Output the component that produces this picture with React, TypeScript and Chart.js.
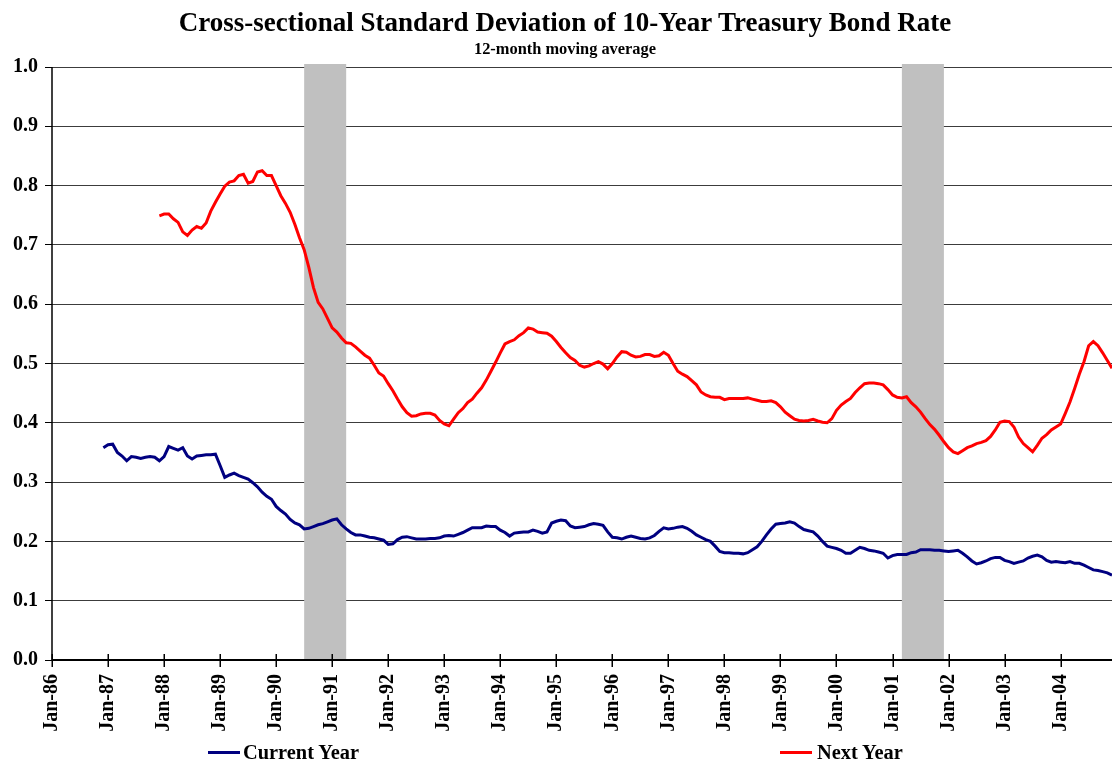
import React, { useEffect, useRef } from "react";
import { Chart, registerables } from "chart.js";

Chart.register(...registerables);

// ---- data ----
const FIRST_YEAR = 1986; // month index 0 = Jan-86
const LAST_MONTH = 227; // Dec-04

const titleText = "Cross-sectional Standard Deviation of 10-Year Treasury Bond Rate";
const subtitleText = "12-month moving average";
const seriesNames = ["Current Year", "Next Year"];

const yTickValues = [0, 0.1, 0.2, 0.3, 0.4, 0.5, 0.6, 0.7, 0.8, 0.9, 1.0];
const xTickMonths = [0, 12, 24, 36, 48, 60, 72, 84, 96, 108, 120, 132, 144, 156, 168, 180, 192, 204, 216];

// recessions, [first month, last month] as month indices (Jul-90..Mar-91, Mar-01..Nov-01)
const recessions = [
  [54, 62],
  [182, 190],
];

// Current Year: starts Dec-86 (month 11)
const currentYearStart = 11;
const currentYear = [
  0.358,
  0.363, 0.364, 0.350, 0.344, 0.336, 0.343, 0.342, 0.340, 0.342, 0.343, 0.342, 0.336, // 87
  0.343, 0.360, 0.357, 0.354, 0.358, 0.344, 0.339, 0.344, 0.345, 0.346, 0.346, 0.347, // 88
  0.328, 0.308, 0.312, 0.315, 0.311, 0.308, 0.305, 0.299, 0.292, 0.283, 0.276, 0.271, // 89
  0.259, 0.252, 0.246, 0.237, 0.231, 0.228, 0.221, 0.222, 0.225, 0.228, 0.230, 0.233, // 90
  0.236, 0.238, 0.228, 0.221, 0.215, 0.211, 0.211, 0.209, 0.207, 0.206, 0.204, 0.202, // 91
  0.195, 0.196, 0.203, 0.207, 0.208, 0.206, 0.204, 0.204, 0.204, 0.205, 0.205, 0.206, // 92
  0.209, 0.210, 0.209, 0.212, 0.215, 0.219, 0.223, 0.223, 0.223, 0.226, 0.225, 0.225, // 93
  0.219, 0.215, 0.209, 0.214, 0.215, 0.216, 0.216, 0.219, 0.217, 0.214, 0.216, 0.231, // 94
  0.234, 0.236, 0.235, 0.226, 0.223, 0.224, 0.225, 0.228, 0.230, 0.229, 0.227, 0.216, // 95
  0.207, 0.206, 0.204, 0.207, 0.209, 0.207, 0.205, 0.204, 0.206, 0.210, 0.217, 0.223, // 96
  0.221, 0.222, 0.224, 0.225, 0.222, 0.217, 0.211, 0.207, 0.203, 0.200, 0.192, 0.183, // 97
  0.181, 0.181, 0.180, 0.180, 0.179, 0.181, 0.186, 0.191, 0.200, 0.211, 0.221, 0.229, // 98
  0.230, 0.231, 0.233, 0.231, 0.225, 0.220, 0.218, 0.216, 0.209, 0.200, 0.192, 0.190, // 99
  0.188, 0.185, 0.180, 0.180, 0.185, 0.190, 0.188, 0.185, 0.184, 0.182, 0.180, 0.172, // 00
  0.176, 0.178, 0.178, 0.178, 0.181, 0.182, 0.186, 0.186, 0.186, 0.185, 0.185, 0.184, // 01
  0.183, 0.184, 0.185, 0.180, 0.174, 0.167, 0.162, 0.164, 0.167, 0.171, 0.173, 0.173, // 02
  0.168, 0.166, 0.163, 0.165, 0.167, 0.172, 0.175, 0.177, 0.174, 0.168, 0.165, 0.166, // 03
  0.165, 0.164, 0.166, 0.163, 0.163, 0.160, 0.156, 0.152, 0.151, 0.149, 0.147, 0.143, // 04
];

// Next Year: starts Dec-87 (month 23)
const nextYearStart = 23;
const nextYear = [
  0.749,
  0.752, 0.752, 0.744, 0.738, 0.722, 0.716, 0.725, 0.731, 0.728, 0.737, 0.757, 0.772, // 88
  0.786, 0.799, 0.806, 0.808, 0.817, 0.819, 0.804, 0.807, 0.823, 0.825, 0.817, 0.817, // 89
  0.800, 0.783, 0.770, 0.755, 0.735, 0.712, 0.692, 0.662, 0.628, 0.603, 0.592, 0.576, // 90
  0.560, 0.553, 0.543, 0.535, 0.534, 0.528, 0.521, 0.514, 0.509, 0.497, 0.484, 0.479, // 91
  0.466, 0.454, 0.440, 0.427, 0.417, 0.411, 0.412, 0.415, 0.416, 0.416, 0.413, 0.404, // 92
  0.398, 0.395, 0.406, 0.417, 0.424, 0.434, 0.440, 0.450, 0.459, 0.472, 0.487, 0.502, // 93
  0.518, 0.533, 0.537, 0.540, 0.547, 0.552, 0.560, 0.558, 0.553, 0.552, 0.551, 0.546, // 94
  0.537, 0.527, 0.518, 0.510, 0.505, 0.497, 0.494, 0.496, 0.500, 0.503, 0.499, 0.491, // 95
  0.500, 0.511, 0.520, 0.519, 0.514, 0.511, 0.512, 0.515, 0.515, 0.512, 0.513, 0.519, // 96
  0.514, 0.500, 0.487, 0.482, 0.478, 0.471, 0.464, 0.452, 0.447, 0.444, 0.443, 0.443, // 97
  0.439, 0.441, 0.441, 0.441, 0.441, 0.442, 0.440, 0.438, 0.436, 0.436, 0.437, 0.434, // 98
  0.427, 0.418, 0.412, 0.406, 0.404, 0.403, 0.404, 0.406, 0.403, 0.401, 0.400, 0.407, // 99
  0.421, 0.430, 0.436, 0.441, 0.451, 0.459, 0.466, 0.467, 0.467, 0.466, 0.464, 0.456, // 00
  0.447, 0.443, 0.442, 0.444, 0.434, 0.427, 0.418, 0.407, 0.397, 0.389, 0.379, 0.368, // 01
  0.358, 0.351, 0.348, 0.353, 0.358, 0.361, 0.365, 0.367, 0.370, 0.377, 0.388, 0.401, // 02
  0.403, 0.402, 0.393, 0.376, 0.365, 0.358, 0.351, 0.362, 0.374, 0.380, 0.388, 0.393, // 03
  0.398, 0.416, 0.435, 0.458, 0.482, 0.503, 0.530, 0.537, 0.530, 0.518, 0.505, 0.492, // 04
];

const NAVY = "#000080";
const RED = "#FF0000";
const FONT = "'Liberation Serif', 'Times New Roman', serif";

function toPoints(start: number, values: number[]) {
  return values.map((v, i) => ({ x: start + i, y: v }));
}

function monthLabel(m: number) {
  const yy = (FIRST_YEAR + Math.floor(m / 12)) % 100;
  return "Jan-" + String(yy).padStart(2, "0");
}

const decorPlugin = {
  id: "decor",
  beforeDatasetsDraw(chart: any) {
    const { ctx, chartArea, scales } = chart;
    const xs = scales.x;
    ctx.save();
    ctx.fillStyle = "#C0C0C0";
    for (const [a, b] of recessions) {
      const x1 = xs.getPixelForValue(a);
      const x2 = xs.getPixelForValue(b + 1);
      ctx.fillRect(x1, chartArea.top - 3, x2 - x1, chartArea.bottom - chartArea.top + 2);
    }
    ctx.restore();
  },
  afterDatasetsDraw(chart: any) {
    const { ctx, chartArea, scales } = chart;
    const xs = scales.x;
    ctx.save();
    ctx.strokeStyle = "#000";
    // x axis line
    ctx.lineWidth = 2;
    ctx.beginPath();
    ctx.moveTo(chartArea.left, chartArea.bottom);
    ctx.lineTo(chartArea.right, chartArea.bottom);
    ctx.stroke();
    // crossing tick marks
    ctx.lineWidth = 1.5;
    for (const m of xTickMonths) {
      const x = Math.round(xs.getPixelForValue(m)) + 0.25;
      ctx.beginPath();
      ctx.moveTo(x, chartArea.bottom - 6);
      ctx.lineTo(x, chartArea.bottom + 7);
      ctx.stroke();
    }
    // y axis line
    ctx.beginPath();
    ctx.moveTo(chartArea.left, chartArea.top);
    ctx.lineTo(chartArea.left, chartArea.bottom);
    ctx.stroke();
    ctx.restore();
  },
};

export default function App() {
  const canvasRef = useRef<HTMLCanvasElement | null>(null);

  useEffect(() => {
    if (!canvasRef.current) return;
    const chart = new Chart(canvasRef.current, {
      type: "line",
      data: {
        datasets: [
          {
            label: seriesNames[0],
            data: toPoints(currentYearStart, currentYear),
            borderColor: NAVY,
            backgroundColor: NAVY,
            borderWidth: 3,
            pointRadius: 0,
            tension: 0,
          },
          {
            label: seriesNames[1],
            data: toPoints(nextYearStart, nextYear),
            borderColor: RED,
            backgroundColor: RED,
            borderWidth: 3,
            pointRadius: 0,
            tension: 0,
          },
        ],
      },
      options: {
        animation: false,
        responsive: false,
        maintainAspectRatio: false,
        parsing: false,
        layout: { padding: { top: 67, right: 0, left: 0, bottom: 0 } },
        plugins: {
          legend: { display: false },
          title: { display: false },
          tooltip: { enabled: false },
        },
        scales: {
          x: {
            type: "linear",
            min: 0,
            max: LAST_MONTH,
            grid: { display: false },
            border: { display: false },
            afterBuildTicks: (scale: any) => {
              scale.ticks = xTickMonths.map((v) => ({ value: v }));
            },
            afterFit: (scale: any) => {
              scale.height = 104;
            },
            ticks: {
              autoSkip: false,
              minRotation: 90,
              maxRotation: 90,
              padding: 6,
              color: "#000",
              font: { family: FONT, size: 20, weight: "bold" },
              callback: (v: any) => monthLabel(Number(v)),
            },
          },
          y: {
            type: "linear",
            min: 0,
            max: 1,
            afterBuildTicks: (scale: any) => {
              scale.ticks = yTickValues.map((v) => ({ value: v }));
            },
            afterFit: (scale: any) => {
              scale.width = 52;
            },
            grid: {
              color: "#3c3c3c",
              lineWidth: 1,
              tickLength: 7,
              tickColor: "#000",
            },
            border: { display: false },
            ticks: {
              padding: 7,
              color: "#000",
              font: { family: FONT, size: 20, weight: "bold" },
              callback: (v: any) => Number(v).toFixed(1),
            },
          },
        },
      },
      plugins: [decorPlugin],
    } as any);
    return () => chart.destroy();
  }, []);

  const textBase: React.CSSProperties = {
    position: "absolute",
    fontFamily: FONT,
    fontWeight: "bold",
    color: "#000",
    whiteSpace: "nowrap",
  };

  return (
    <div style={{ position: "absolute", left: 0, top: 0, width: 1112, height: 764, background: "#fff", overflow: "hidden" }}>
      <canvas ref={canvasRef} width={1112} height={764} style={{ position: "absolute", left: 0, top: 0, width: 1112, height: 764 }} />
      <div style={{ ...textBase, left: 0, width: 1130, top: 9, textAlign: "center", fontSize: 27, lineHeight: "27px" }}>
        {titleText}
      </div>
      <div style={{ ...textBase, left: 0, width: 1130, top: 41, textAlign: "center", fontSize: 16.4, lineHeight: "16px" }}>
        {subtitleText}
      </div>
      <div style={{ ...textBase, left: 208, top: 741, height: 22, display: "flex", alignItems: "center", fontSize: 20.4 }}>
        <span style={{ display: "inline-block", width: 32, height: 3, background: NAVY, marginRight: 3 }} />
        {seriesNames[0]}
      </div>
      <div style={{ ...textBase, left: 780, top: 741, height: 22, display: "flex", alignItems: "center", fontSize: 20.4 }}>
        <span style={{ display: "inline-block", width: 32, height: 3, background: RED, marginRight: 5 }} />
        {seriesNames[1]}
      </div>
    </div>
  );
}
